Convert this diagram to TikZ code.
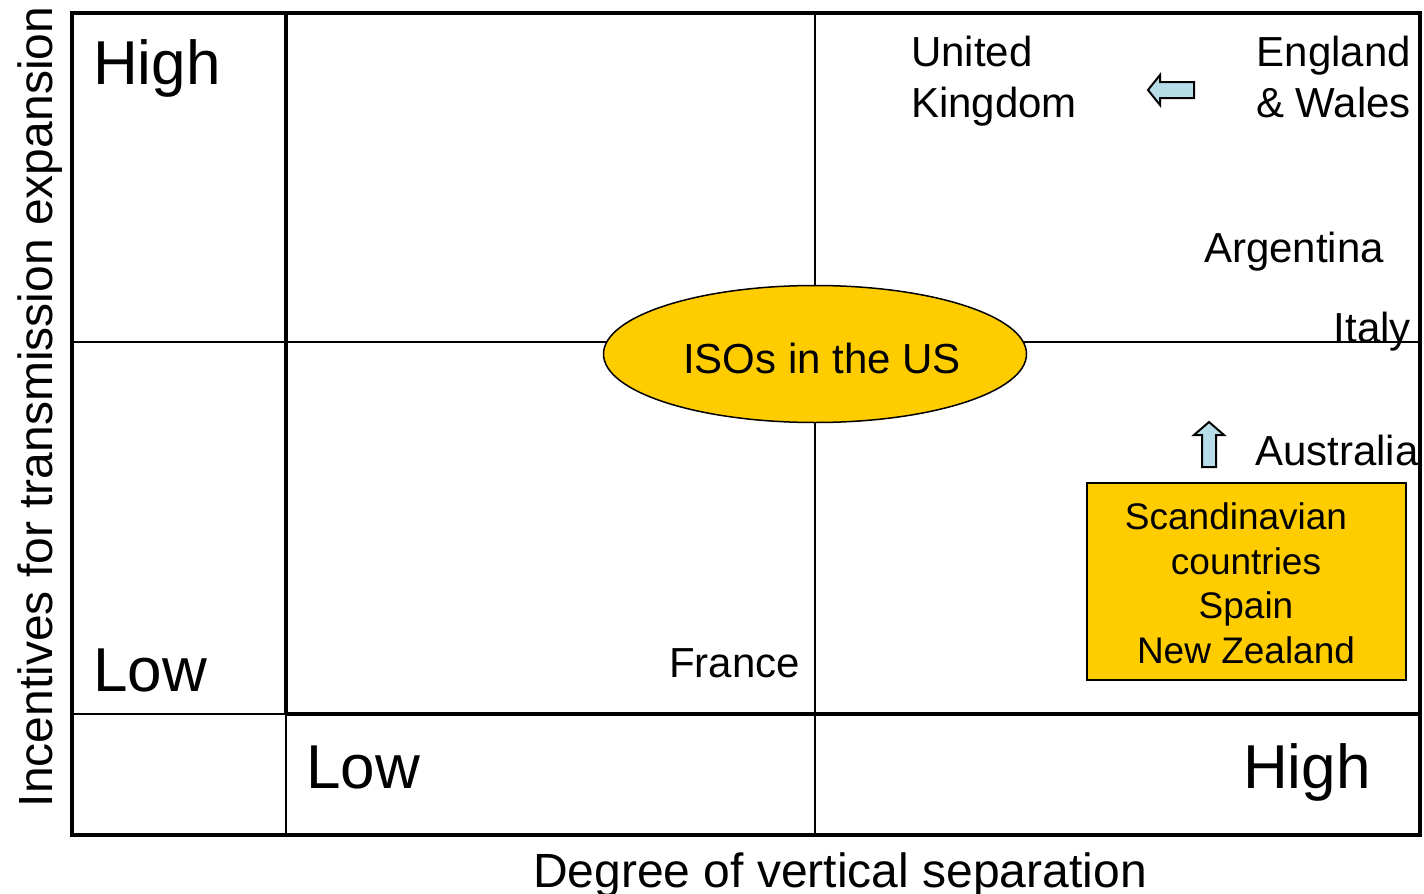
\documentclass[tikz,border=0pt]{standalone}
\usepackage{fontspec}
\setmainfont{Liberation Sans}
\usetikzlibrary{shapes.geometric,shapes.arrows}
\definecolor{isoyellow}{HTML}{FFCC00}
\definecolor{arrowblue}{HTML}{B7DEE8}
\tikzset{
  thickline/.style={line width=4.5pt},
  thinline/.style={line width=2pt},
  biglbl/.style={inner sep=0pt, font=\fontsize{62}{74}\selectfont},
  ctry/.style={inner sep=0pt, font=\fontsize{42}{51}\selectfont},
  axislbl/.style={inner sep=0pt, font=\fontsize{48}{58}\selectfont},
  blockarrow/.style={fill=arrowblue, draw=black, line width=2pt, line join=miter},
}
\begin{document}
\begin{tikzpicture}[x=1pt,y=-1pt]
\useasboundingbox (0,0) rectangle (1424,894);
% grid coordinates
\coordinate (tl) at (72,13);
\coordinate (tr) at (1420,13);
\coordinate (bl) at (72,835);
\coordinate (br) at (1420,835);
\coordinate (vt) at (286,13);
\coordinate (vm) at (286,714);
\coordinate (vb) at (286,835);
\coordinate (hl) at (72,714);
\coordinate (hr) at (1420,714);
\coordinate (ct) at (815,13);
\coordinate (cb) at (815,835);
\coordinate (ml) at (72,342);
\coordinate (mr) at (1420,342);
% thin lines
\draw[thinline] (ct) -- (cb);
\draw[thinline] (ml) -- (mr);
\draw[thinline] (hl) -- (vm);
\draw[thinline] (vm) -- (vb);
% thick lines
\draw[thickline] (vt) -- (vm);
\draw[thickline] (vm) -- (hr);
\draw[thickline, line join=miter] (tl) rectangle (br);
% ellipse
\node[ellipse, draw=black, line width=1.5pt, fill=isoyellow, minimum width=423pt, minimum height=137pt, inner sep=0pt] (iso) at (815,354) {};
\node[ctry, anchor=base] (isotext) at (822,373) {ISOs in the US};
% box
\node[draw=black, line width=2pt, fill=isoyellow, minimum width=319pt, minimum height=197pt, inner sep=0pt] (scand) at (1246.5,581.5) {};
\node[inner sep=0pt, align=center, font=\fontsize{37}{44.5}\selectfont, anchor=base] (scandtext) at (1246,663) {Scandinavian\hspace*{20pt}\\countries\\Spain\\New Zealand};
% big labels
\node[biglbl, anchor=base west] (highy) at (93,84) {High};
\node[biglbl, anchor=base west] (lowy) at (93,691) {Low};
\node[biglbl, anchor=base west] (lowx) at (306,788) {Low};
\node[biglbl, anchor=base west] (highx) at (1243,788) {High};
% countries
\node[ctry, anchor=base west, align=left] (uk) at (911,117) {United\\Kingdom};
\node[ctry, anchor=base east, align=right] (ew) at (1411,117) {England\\\& Wales};
\node[ctry, anchor=base west] (arg) at (1204,262) {Argentina};
\node[ctry, anchor=base east] (italy) at (1411,342) {Italy};
\node[ctry, anchor=base west] (aus) at (1255,465) {Australia};
\node[ctry, anchor=base west] (france) at (669,677) {France};
% block arrows
\draw[blockarrow] (1148,90) -- (1160,75) -- (1160,82) -- (1194,82) -- (1194,98) -- (1160,98) -- (1160,105) -- cycle;
\draw[blockarrow] (1209,422) -- (1224,435) -- (1216,435) -- (1216,467) -- (1202,467) -- (1202,435) -- (1194,435) -- cycle;
% axis labels
\node[axislbl, anchor=base] (xlabel) at (840,887) {Degree of vertical separation};
\node[axislbl, anchor=base, rotate=90] (ylabel) at (52,407) {Incentives for transmission expansion};
\end{tikzpicture}
\end{document}
